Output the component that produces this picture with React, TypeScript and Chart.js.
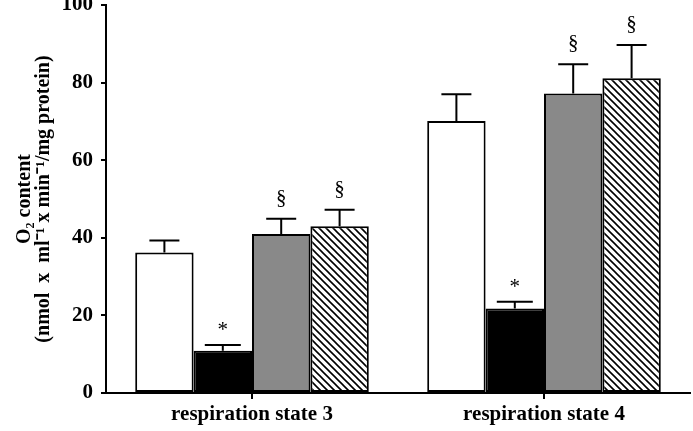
import React, { useEffect, useRef } from 'react';
import { Chart, registerables } from 'chart.js';

Chart.register(...registerables);

const categories = ['respiration state 3', 'respiration state 4'];

const whiteValues = [36.2, 70.1];
const whiteErrors = [3.1, 6.9];
const blackValues = [10.9, 21.8];
const blackErrors = [1.5, 1.7];
const grayValues = [41.0, 77.2];
const grayErrors = [3.9, 7.5];
const hatchedValues = [43.0, 81.1];
const hatchedErrors = [4.2, 8.6];

const whiteMarks = ['', ''];
const blackMarks = ['*', '*'];
const grayMarks = ['§', '§'];
const hatchedMarks = ['§', '§'];

const yTitle = ['O\u2082 content', '(nmol  x  ml\u207B\u00B9 x min\u207B\u00B9/mg protein)'];

const SERIF = "'Liberation Serif', 'Times New Roman', serif";

function makeHatch(): CanvasPattern | string {
  const s = 7;
  const c = document.createElement('canvas');
  c.width = s;
  c.height = s;
  const x = c.getContext('2d');
  if (!x) return '#fff';
  x.fillStyle = '#fff';
  x.fillRect(0, 0, s, s);
  x.strokeStyle = '#000';
  x.lineWidth = 1.6;
  x.beginPath();
  x.moveTo(-1, -1);
  x.lineTo(s + 1, s + 1);
  x.moveTo(-1, s - 1);
  x.lineTo(1, s + 1);
  x.moveTo(s - 1, -1);
  x.lineTo(s + 1, 1);
  x.stroke();
  return x.createPattern(c, 'repeat') || '#fff';
}

const errorPlugin = {
  id: 'errorBars',
  afterDatasetsDraw(chart: any) {
    const ctx = chart.ctx;
    const y = chart.scales.y;
    chart.data.datasets.forEach((ds: any, i: number) => {
      const meta = chart.getDatasetMeta(i);
      meta.data.forEach((bar: any, j: number) => {
        const v = ds.data[j];
        const e = ds.errors[j];
        const top = y.getPixelForValue(v);
        const capY = y.getPixelForValue(v + e);
        const half = ds.capWidth / 2;
        ctx.save();
        ctx.strokeStyle = '#000';
        ctx.lineWidth = 2;
        ctx.beginPath();
        ctx.moveTo(bar.x, top);
        ctx.lineTo(bar.x, capY);
        ctx.moveTo(bar.x - half, capY);
        ctx.lineTo(bar.x + half, capY);
        ctx.stroke();
        const mark = ds.marks[j];
        if (mark) {
          ctx.fillStyle = '#000';
          ctx.textAlign = 'center';
          ctx.textBaseline = 'alphabetic';
          ctx.font = `21px ${SERIF}`;
          const off = mark === '*' ? 9 : 15;
          ctx.fillText(mark, bar.x, capY - off);
        }
        ctx.restore();
      });
    });
  },
};

export default function App() {
  const ref = useRef<HTMLCanvasElement | null>(null);

  useEffect(() => {
    document.body.style.margin = '0';
    const canvas = ref.current;
    if (!canvas) return;
    const hatch = makeHatch();
    const common = { borderColor: '#000', borderWidth: 2, borderSkipped: false as const };
    const chart = new Chart(canvas, {
      type: 'bar',
      data: {
        labels: categories,
        datasets: [
          { label: 'A', data: whiteValues, errors: whiteErrors, marks: whiteMarks, capWidth: 30, backgroundColor: '#ffffff', ...common } as any,
          { label: 'B', data: blackValues, errors: blackErrors, marks: blackMarks, capWidth: 36, backgroundColor: '#000000', ...common } as any,
          { label: 'C', data: grayValues, errors: grayErrors, marks: grayMarks, capWidth: 30, backgroundColor: '#898989', ...common } as any,
          { label: 'D', data: hatchedValues, errors: hatchedErrors, marks: hatchedMarks, capWidth: 30, backgroundColor: hatch, ...common } as any,
        ],
      },
      options: {
        animation: false,
        responsive: false,
        layout: { padding: { top: 5, right: 3, left: 0, bottom: 0 } },
        datasets: { bar: { categoryPercentage: 0.8, barPercentage: 1.0 } },
        plugins: { legend: { display: false }, tooltip: { enabled: false } },
        scales: {
          x: {
            offset: true,
            grid: { offset: false, drawOnChartArea: false, drawTicks: true, tickLength: 6, color: '#000', lineWidth: 2 },
            border: { color: '#000', width: 2 },
            ticks: { color: '#000', padding: 3, font: { family: SERIF, size: 21, weight: 'bold' } },
            afterFit: (s: any) => { s.height = 38; s.paddingLeft = 0; s.paddingRight = 0; },
          },
          y: {
            min: 0,
            max: 100,
            ticks: { stepSize: 20, color: '#000', padding: 8, font: { family: SERIF, size: 21, weight: 'bold' } },
            grid: { drawOnChartArea: false, drawTicks: true, tickLength: 5, color: '#000', lineWidth: 2 },
            border: { color: '#000', width: 2 },
            title: {
              display: true,
              text: yTitle,
              color: '#000',
              font: { family: SERIF, size: 20, weight: 'bold', lineHeight: 0.95 },
              padding: { top: 15, bottom: 0 },
            },
            afterFit: (s: any) => { s.width = 106; s.paddingTop = 0; s.paddingBottom = 0; },
          },
        },
      } as any,
      plugins: [errorPlugin],
    });
    return () => chart.destroy();
  }, []);

  return (
    <div style={{ position: 'absolute', left: 0, top: 0, width: 693, height: 431, background: '#fff' }}>
      <canvas ref={ref} width={693} height={431} style={{ display: 'block' }} />
    </div>
  );
}
